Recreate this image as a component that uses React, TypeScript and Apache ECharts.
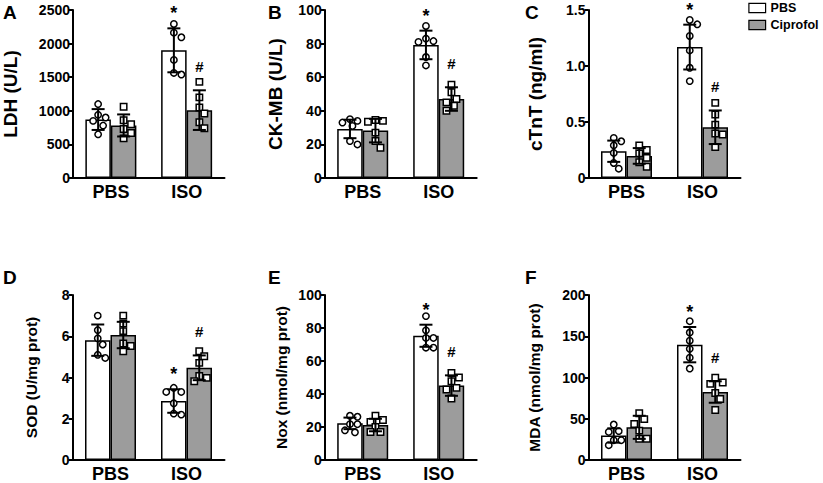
import React, { useEffect, useRef } from 'react';
import * as echarts from 'echarts';

const FONT = 'Arial, "Liberation Sans", Helvetica, sans-serif';

const CATEGORIES = ['PBS', 'ISO'];
const GROUPS = ['PBS', 'Ciprofol'];
const SIG_MARKS = [['', '*'], ['', '#']];

// A: LDH
const LDH_TICKS = [0, 500, 1000, 1500, 2000, 2500];
const LDH_MEAN_PBS = [870, 1900];
const LDH_SD_PBS = [155, 327];
const LDH_MEAN_CIP = [782, 1010];
const LDH_SD_CIP = [164, 295];
const LDH_PTS_PBS = [[1100, 940, 900, 850, 780, 650], [2292, 2163, 2094, 1757, 1564, 1540]];
const LDH_PTS_CIP = [[1060, 860, 800, 730, 670, 590], [1430, 1200, 1050, 960, 830, 740]];

// B: CK-MB
const CK_TICKS = [0, 20, 40, 60, 80, 100];
const CK_MEAN_PBS = [29.2, 79.2];
const CK_SD_PBS = [5.5, 8.5];
const CK_MEAN_CIP = [28.2, 47];
const CK_SD_CIP = [7, 7];
const CK_PTS_PBS = [[35, 34, 33, 31, 22, 20], [90.5, 83, 81.5, 81, 72, 67]];
const CK_PTS_CIP = [[34.5, 34, 33.5, 27, 22, 18], [55.5, 51, 47, 45, 43, 40]];

// C: cTnT
const CTNT_TICKS = [0, 0.5, 1.0, 1.5];
const CTNT_MEAN_PBS = [0.239, 1.169];
const CTNT_SD_PBS = [0.095, 0.2];
const CTNT_MEAN_CIP = [0.197, 0.453];
const CTNT_SD_CIP = [0.07, 0.15];
const CTNT_PTS_PBS = [[0.358, 0.328, 0.292, 0.224, 0.134, 0.083], [1.411, 1.372, 1.268, 1.139, 0.984, 0.865]];
const CTNT_PTS_CIP = [[0.29, 0.25, 0.22, 0.18, 0.14, 0.1], [0.671, 0.567, 0.477, 0.397, 0.388, 0.277]];

// D: SOD
const SOD_TICKS = [0, 2, 4, 6, 8];
const SOD_MEAN_PBS = [5.81, 2.86];
const SOD_SD_PBS = [0.76, 0.57];
const SOD_MEAN_CIP = [6.06, 4.47];
const SOD_SD_CIP = [0.64, 0.6];
const SOD_PTS_PBS = [[7.0, 6.3, 5.9, 5.6, 5.1, 4.95], [3.5, 3.3, 3.3, 2.75, 2.25, 2.2]];
const SOD_PTS_CIP = [[7.0, 6.62, 6.25, 5.65, 5.53, 5.27], [5.27, 5.03, 4.71, 4.07, 3.98, 3.82]];

// E: Nox
const NOX_TICKS = [0, 20, 40, 60, 80, 100];
const NOX_MEAN_PBS = [22.2, 75.3];
const NOX_SD_PBS = [3.5, 6.7];
const NOX_MEAN_CIP = [21.2, 45.1];
const NOX_SD_CIP = [3.8, 6.2];
const NOX_PTS_PBS = [[26.8, 26.2, 21.7, 21.7, 18, 16.8], [87.2, 78.6, 74, 74, 68.1, 68.1]];
const NOX_PTS_CIP = [[26.8, 24.2, 23, 20, 17, 17], [52.7, 50, 47.7, 43.7, 42.7, 37.3]];

// F: MDA
const MDA_TICKS = [0, 50, 100, 150, 200];
const MDA_MEAN_PBS = [29.7, 139.8];
const MDA_SD_PBS = [8.7, 21.4];
const MDA_MEAN_CIP = [39.6, 82.4];
const MDA_SD_CIP = [14, 13];
const MDA_PTS_PBS = [[43, 35, 34, 24, 24, 18], [168.3, 154.5, 144.6, 134.7, 124, 110.9]];
const MDA_PTS_CIP = [[56.6, 49.5, 43.6, 35.6, 25.7, 25.7], [99.8, 93.9, 92.3, 81.2, 74, 60.6]];

const PANELS = [
  { letter: 'A', name: 'LDH (U/L)', ticks: LDH_TICKS, mean: [LDH_MEAN_PBS, LDH_MEAN_CIP], sd: [LDH_SD_PBS, LDH_SD_CIP], pts: [LDH_PTS_PBS, LDH_PTS_CIP], dec: 0 },
  { letter: 'B', name: 'CK-MB (U/L)', ticks: CK_TICKS, mean: [CK_MEAN_PBS, CK_MEAN_CIP], sd: [CK_SD_PBS, CK_SD_CIP], pts: [CK_PTS_PBS, CK_PTS_CIP], dec: 0 },
  { letter: 'C', name: 'cTnT (ng/ml)', ticks: CTNT_TICKS, mean: [CTNT_MEAN_PBS, CTNT_MEAN_CIP], sd: [CTNT_SD_PBS, CTNT_SD_CIP], pts: [CTNT_PTS_PBS, CTNT_PTS_CIP], dec: 1 },
  { letter: 'D', name: 'SOD (U/mg prot)', ticks: SOD_TICKS, mean: [SOD_MEAN_PBS, SOD_MEAN_CIP], sd: [SOD_SD_PBS, SOD_SD_CIP], pts: [SOD_PTS_PBS, SOD_PTS_CIP], dec: 0 },
  { letter: 'E', name: 'Nox (nmol/mg prot)', ticks: NOX_TICKS, mean: [NOX_MEAN_PBS, NOX_MEAN_CIP], sd: [NOX_SD_PBS, NOX_SD_CIP], pts: [NOX_PTS_PBS, NOX_PTS_CIP], dec: 0 },
  { letter: 'F', name: 'MDA (nmol/mg prot)', ticks: MDA_TICKS, mean: [MDA_MEAN_PBS, MDA_MEAN_CIP], sd: [MDA_SD_PBS, MDA_SD_CIP], pts: [MDA_PTS_PBS, MDA_PTS_CIP], dec: 0 },
];

// layout (pixels)
const LAYOUT = [
  { left: 72.5, top: 10, height: 168, nameGap: 53, nameSize: 19, lx: 3, ly: 3 },
  { left: 324.7, top: 10, height: 168, nameGap: 40, nameSize: 19, lx: 268, ly: 3 },
  { left: 588.5, top: 10, height: 168, nameGap: 44, nameSize: 19, lx: 525, ly: 3 },
  { left: 72.5, top: 295, height: 167.5, nameGap: 33, nameSize: 15.5, lx: 3, ly: 268 },
  { left: 324.7, top: 295, height: 167.5, nameGap: 35, nameSize: 15.5, lx: 268, ly: 268 },
  { left: 588.5, top: 295, height: 167.5, nameGap: 46, nameSize: 15.5, lx: 525, ly: 268 },
];
const GRID_W = 152;
const BAR_W = 25.5;
const BAR_COLORS = ['#ffffff', '#9c9c9c'];
const MARK_R = 3.2;
const CANDIDATES = [0, 5, -5, 2.5, -2.5, 7.5, -7.5, 10, -10];
const MIN_DIST = 7;

function makeRender(groupIdx: number) {
  return (params: any, api: any) => {
    const c = api.value(0);
    const mean = api.value(1);
    const sd = api.value(2);
    const pts = [3, 4, 5, 6, 7, 8].map((i) => api.value(i));
    const base = api.coord([c, mean]);
    const cx = base[0] + (groupIdx === 0 ? -BAR_W / 2 : BAR_W / 2);
    const yTop = api.coord([c, mean + sd])[1];
    const yBot = api.coord([c, mean - sd])[1];
    const children: any[] = [];
    const order = pts.map((v) => api.coord([c, v])[1]).sort((a, b) => a - b);
    const placed: number[][] = [];
    for (const y of order) {
      let chosen = 0;
      for (const dx of CANDIDATES) {
        if (placed.every((q) => Math.hypot(q[0] - dx, q[1] - y) >= MIN_DIST)) {
          chosen = dx;
          break;
        }
      }
      placed.push([chosen, y]);
    }
    const mstyle = { fill: '#fff', stroke: '#000', lineWidth: 1.5 };
    placed.forEach(([dx, y]) => {
      if (groupIdx === 0) {
        children.push({ type: 'circle', shape: { cx: cx + dx, cy: y, r: MARK_R }, style: mstyle });
      } else {
        children.push({ type: 'rect', shape: { x: cx + dx - MARK_R, y: y - MARK_R, width: MARK_R * 2, height: MARK_R * 2 }, style: mstyle });
      }
    });
    const ls = { stroke: '#000', lineWidth: 2 };
    children.push({ type: 'line', shape: { x1: cx, y1: yTop, x2: cx, y2: yBot }, style: ls });
    children.push({ type: 'line', shape: { x1: cx - 6.5, y1: yTop, x2: cx + 6.5, y2: yTop }, style: ls });
    children.push({ type: 'line', shape: { x1: cx - 6.5, y1: yBot, x2: cx + 6.5, y2: yBot }, style: ls });
    const sig = SIG_MARKS[groupIdx][c];
    if (sig) {
      const isStar = sig === '*';
      children.push({
        type: 'text',
        style: {
          text: sig,
          x: cx,
          y: yTop - (isStar ? 15 : 24),
          align: 'center',
          verticalAlign: 'middle',
          fontSize: isStar ? 18 : 15,
          fontWeight: 'bold',
          fontFamily: FONT,
          fill: '#000',
        },
      });
    }
    return { type: 'group', children };
  };
}

export default function App() {
  const ref = useRef<HTMLDivElement>(null);
  useEffect(() => {
    if (!ref.current) return;
    const chart = echarts.init(ref.current, undefined, { renderer: 'svg' });
    const grid: any[] = [];
    const xAxis: any[] = [];
    const yAxis: any[] = [];
    const series: any[] = [];
    const title: any[] = [];
    PANELS.forEach((p, i) => {
      const L = LAYOUT[i];
      grid.push({ left: L.left, top: L.top, width: GRID_W, height: L.height });
      title.push({
        text: p.letter,
        left: L.lx,
        top: L.ly,
        padding: 0,
        textStyle: { fontSize: 19, fontWeight: 'bold', color: '#000', fontFamily: FONT },
      });
      xAxis.push({
        type: 'category',
        gridIndex: i,
        data: CATEGORIES,
        axisLine: { lineStyle: { color: '#000', width: 2 } },
        axisTick: { show: false },
        axisLabel: { fontSize: 18, fontWeight: 'bold', color: '#000', margin: 5, fontFamily: FONT },
      });
      const t = p.ticks;
      yAxis.push({
        type: 'value',
        gridIndex: i,
        min: t[0],
        max: t[t.length - 1],
        interval: t[1] - t[0],
        name: p.name,
        nameLocation: 'middle',
        nameGap: L.nameGap,
        nameTextStyle: { fontSize: L.nameSize, fontWeight: 'bold', color: '#000', fontFamily: FONT },
        axisLine: { show: true, lineStyle: { color: '#000', width: 2 } },
        axisTick: { show: true, length: 4, lineStyle: { color: '#000', width: 2 } },
        axisLabel: {
          fontSize: 14,
          fontWeight: 'bold',
          color: '#000',
          margin: 3,
          fontFamily: FONT,
          formatter: (v: number) => (v === 0 ? '0' : v.toFixed(p.dec)),
        },
        splitLine: { show: false },
      });
      GROUPS.forEach((g, gi) => {
        series.push({
          type: 'bar',
          name: g,
          xAxisIndex: i,
          yAxisIndex: i,
          data: p.mean[gi],
          barWidth: BAR_W,
          barGap: '0%',
          itemStyle: { color: BAR_COLORS[gi], borderColor: '#000', borderWidth: 1.5 },
          emphasis: { disabled: true },
        });
      });
      GROUPS.forEach((g, gi) => {
        series.push({
          type: 'custom',
          xAxisIndex: i,
          yAxisIndex: i,
          z: 3,
          renderItem: makeRender(gi),
          encode: { x: 0, y: 1 },
          data: CATEGORIES.map((_, c) => [c, p.mean[gi][c], p.sd[gi][c], ...p.pts[gi][c]]),
          silent: true,
        });
      });
    });
    chart.setOption({
      animation: false,
      backgroundColor: '#fff',
      textStyle: { fontFamily: FONT },
      title,
      legend: {
        data: GROUPS,
        orient: 'vertical',
        left: 748.3,
        top: 1.5,
        padding: 0,
        icon: 'rect',
        itemWidth: 16.7,
        itemHeight: 9.3,
        itemGap: 4,
        itemStyle: { borderColor: '#000', borderWidth: 1.2 },
        textStyle: { fontSize: 12.5, fontWeight: 'bold', color: '#000', fontFamily: FONT },
        selectedMode: false,
      },
      grid,
      xAxis,
      yAxis,
      series,
    });
    return () => chart.dispose();
  }, []);
  return (
    <div
      ref={ref}
      style={{ position: 'fixed', left: 0, top: 0, width: 823, height: 483, background: '#fff' }}
    />
  );
}
